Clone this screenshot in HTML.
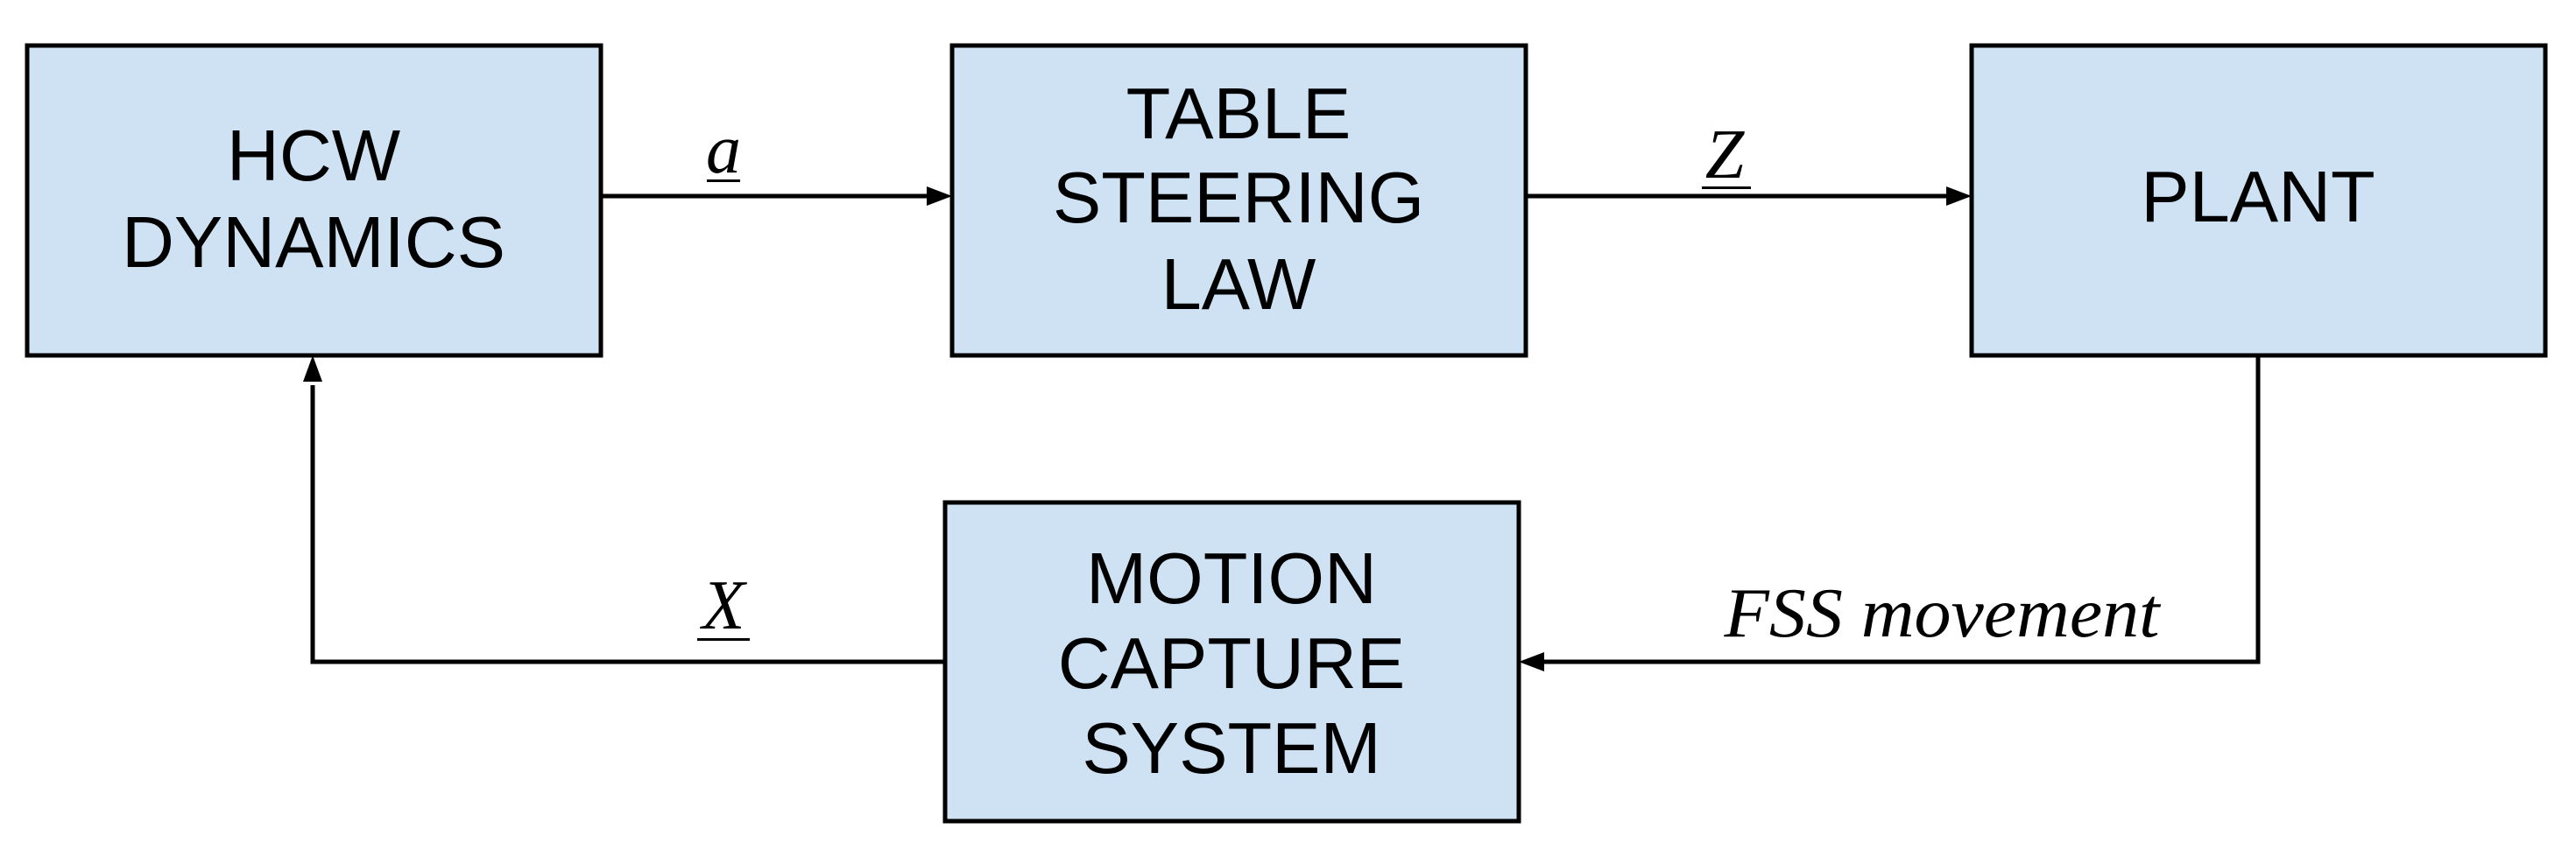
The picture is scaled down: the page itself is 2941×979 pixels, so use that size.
<!DOCTYPE html>
<html><head><meta charset="utf-8"><style>
html,body{margin:0;padding:0;background:#fff;}
svg{display:block;}
.b{font-family:"Liberation Sans",sans-serif;font-size:83px;fill:#000;text-anchor:middle;}
.l{font-family:"Liberation Serif",serif;font-style:italic;font-size:80px;fill:#000;text-anchor:middle;}
</style></head><body>
<svg width="2941" height="979" viewBox="0 0 2941 979" xmlns="http://www.w3.org/2000/svg">
<g fill="#cfe2f3" stroke="#000" stroke-width="5">
<rect x="31" y="52" width="655" height="354"/>
<rect x="1087" y="52" width="655" height="354"/>
<rect x="2251" y="52" width="655" height="354"/>
<rect x="1079" y="574" width="655" height="364"/>
</g>
<g stroke="#000" stroke-width="5" fill="none">
<line x1="686" y1="224" x2="1060" y2="224"/>
<line x1="1742" y1="224" x2="2225" y2="224"/>
<polyline points="2578,406 2578,756 1760,756"/>
<polyline points="1079,756 357,756 357,440"/>
</g>
<g fill="#000">
<polygon points="1087,224 1058,213 1058,235"/>
<polygon points="2251,224 2222,213 2222,235"/>
<polygon points="1734,756 1763,745 1763,767"/>
<polygon points="357,406 346,436 368,436"/>
</g>
<text class="b" x="358" y="206">HCW</text>
<text class="b" x="358" y="305">DYNAMICS</text>
<text class="b" x="1414" y="158">TABLE</text>
<text class="b" x="1414" y="254">STEERING</text>
<text class="b" x="1414" y="353">LAW</text>
<text class="b" x="2578" y="253">PLANT</text>
<text class="b" x="1406" y="689">MOTION</text>
<text class="b" x="1406" y="786">CAPTURE</text>
<text class="b" x="1406" y="883">SYSTEM</text>
<text class="l" x="826" y="197">a</text>
<rect x="807" y="205" width="38" height="3" fill="#000"/>
<text class="l" x="1969" y="203">Z</text>
<rect x="1943" y="213" width="56" height="3" fill="#000"/>
<text class="l" x="826" y="718">X</text>
<rect x="796" y="729" width="60" height="3" fill="#000"/>
<text class="l" x="2217" y="727" textLength="497" lengthAdjust="spacingAndGlyphs">FSS movement</text>
</svg>
</body></html>
